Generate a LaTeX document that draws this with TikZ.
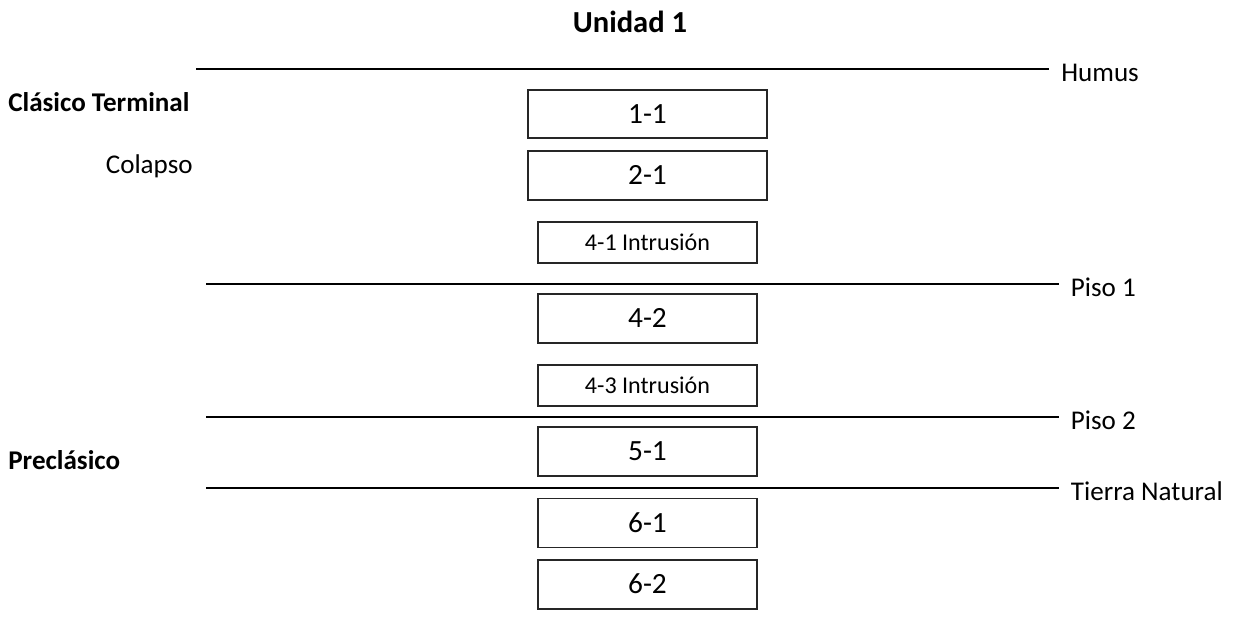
\documentclass[tikz,border=0pt]{standalone}
\usepackage{fontspec}
\setmainfont{Carlito}
\usetikzlibrary{positioning}

\tikzset{
  capa/.style={line width=1.1pt},
  etqcapa/.style={inner sep=0pt, anchor=base west, xshift=0.22cm, yshift=-0.24cm, font=\fontsize{15.4}{18}\selectfont},
  periodo/.style={inner sep=0pt, font=\bfseries\fontsize{15.4}{18}\selectfont},
  caja/.style={draw=black!85, fill=white, line width=0.9pt, inner sep=0pt,
    text height=10.7pt, text depth=0pt, font=\fontsize{16.7}{19}\selectfont},
  cajagrande/.style={caja, minimum width=4.78cm, minimum height=0.97cm},
  cajachica/.style={caja, minimum width=4.38cm, minimum height=0.98cm},
  intrusion/.style={caja, minimum width=4.38cm, minimum height=0.82cm,
    text height=8.8pt, font=\fontsize{13.7}{16}\selectfont}
}

\begin{document}
\begin{tikzpicture}[x=0.02cm, y=-0.02cm]
  \useasboundingbox (0,0) rectangle (1238,620);

  \node[inner sep=0pt, anchor=base, font=\bfseries\fontsize{17.4}{20}\selectfont] (titulo) at (630,32) {Unidad 1};

  % niveles del perfil
  \coordinate (H1) at (196,69);
  \coordinate (H2) at (1049,69);
  \coordinate (P1a) at (206,284);
  \coordinate (P1b) at (1059,284);
  \coordinate (P2a) at (206,417);
  \coordinate (P2b) at (1059,417);
  \coordinate (TNa) at (206,488);
  \coordinate (TNb) at (1059,488);

  \draw[capa, line width=1.5pt] (H1) -- (H2) node[etqcapa] (humus) {Humus};
  \draw[capa] (P1a) -- (P1b) node[etqcapa] (piso1) {Piso 1};
  \draw[capa] (P2a) -- (P2b) node[etqcapa] (piso2) {Piso 2};
  \draw[capa] (TNa) -- (TNb) node[etqcapa] (tierra) {Tierra Natural};

  \node[periodo, anchor=base west] (clasico) at (8,111) {Clásico Terminal};
  \node[inner sep=0pt, anchor=base east, font=\fontsize{15.4}{18}\selectfont] (colapso) at (193,173) {Colapso};
  \node[periodo, anchor=base west] (precl) at (8,469) {Preclásico};

  % lotes
  \node[cajagrande] (l11) at (647.5,114) {1-1};
  \node[cajagrande] (l21) at (647.5,175.5) {2-1};
  \node[intrusion] (l41) at (647.5,242.5) {4-1 Intrusión};
  \node[cajachica] (l42) at (647.5,318.5) {4-2};
  \node[intrusion] (l43) at (647.5,385.5) {4-3 Intrusión};
  \node[cajachica] (l51) at (647.5,451.5) {5-1};
  \node[cajachica] (l61) at (647.5,523) {6-1};
  \node[cajachica] (l62) at (647.5,584.5) {6-2};
\end{tikzpicture}
\end{document}
